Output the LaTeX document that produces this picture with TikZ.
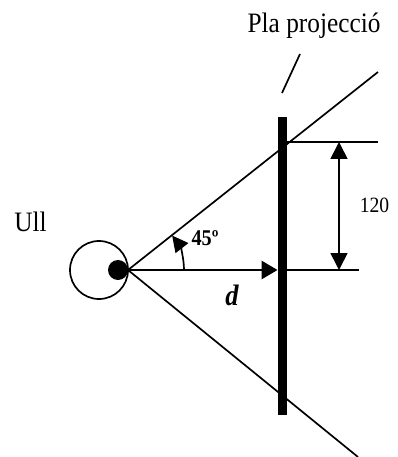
\documentclass[tikz,border=0pt]{standalone}
\usepackage{fontspec}
\setmainfont{Liberation Serif}[FakeStretch=0.9]
\usetikzlibrary{arrows.meta,calc}
\tikzset{
  >={Triangle[length=4.2mm,width=4.2mm]},
  ray/.style={line width=1.2pt},
  plane/.style={line width=6.4pt},
  dimarrow/.style={<->,line width=1.2pt},
  axisarrow/.style={-{Triangle[length=4mm,width=4.6mm]},line width=1.2pt},
  anglearrow/.style={-{Triangle[length=4mm,width=4mm]},line width=1.2pt},
  lbl/.style={font=\fontsize{20}{22}\selectfont,inner sep=0pt,anchor=base},
  smalllbl/.style={font=\fontsize{15.5}{17}\selectfont,inner sep=0pt,anchor=base},
  anglbl/.style={font=\fontsize{16}{18}\selectfont\bfseries,inner sep=0pt,anchor=base},
  distlbl/.style={font=\fontsize{21}{23}\selectfont\bfseries\itshape,inner sep=0pt,anchor=base},
}
\begin{document}
\begin{tikzpicture}[x=0.025cm,y=-0.025cm]
  \useasboundingbox (0,0) rectangle (397,457);
  \node[draw,circle,line width=1.2pt,minimum size=1.45cm,inner sep=0pt] (eye) at (99,270) {};
  \node[circle,fill,minimum size=0.5cm,inner sep=0pt] (pupil) at (118,270) {};
  \coordinate (apex) at (128,270);
  \coordinate (ptop) at (282,117);
  \coordinate (pbot) at (282,415);
  \coordinate (paxis) at (277.5,270);
  \coordinate (axisend) at (359,270);
  \coordinate (hit) at (286,142);
  \coordinate (hitend) at (378,142);
  \coordinate (dimtop) at (339,142);
  \coordinate (dimbot) at (339,270);
  \coordinate (tickA) at (300,54);
  \coordinate (tickB) at (282,93);
  \foreach \e in {(378,72),(358,457)} {
    \draw[ray] (apex) -- \e;
  }
  \draw[plane] (ptop) -- (pbot);
  \draw[axisarrow] (apex) -- (paxis);
  \draw[ray] (pbot |- paxis) -- (axisend);
  \draw[ray] (hit) -- (hitend);
  \draw[dimarrow] (dimtop) -- (dimbot);
  \draw[ray] (tickA) -- (tickB);
  \draw[anglearrow] ($(apex)+(56,0)$) arc[start angle=0,end angle=-38,radius=56];
  \node[lbl] (title) at (314,33) {Pla projecció};
  \node[lbl] (ull) at (30.5,232) {Ull};
  \node[smalllbl] (dim) at (374.5,213) {120};
  \node[anglbl] (ang) at (205,245) {45º};
  \node[distlbl] (dist) at (232,305) {d};
\end{tikzpicture}
\end{document}
